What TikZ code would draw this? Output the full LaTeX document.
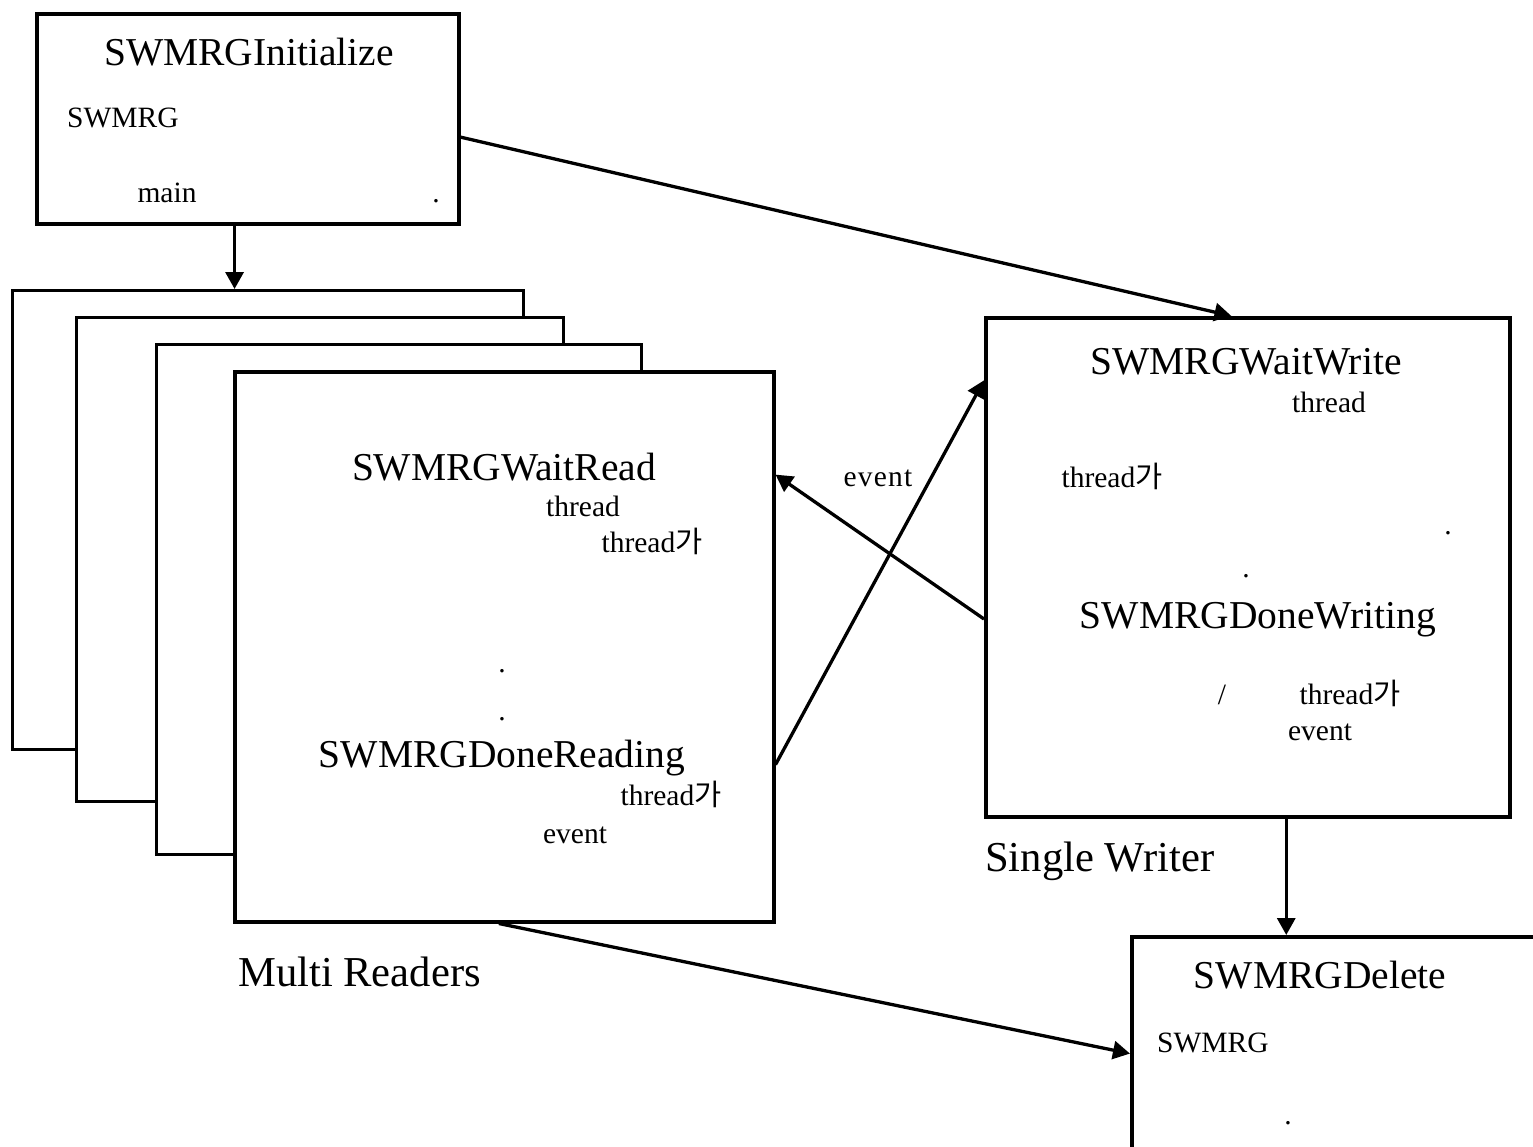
\documentclass[tikz,border=0pt]{standalone}
\usepackage{fontspec}
\setmainfont{Liberation Serif}
\newfontfamily\krfont{Noto Sans CJK KR}[Scale=1.0]
\usetikzlibrary{arrows.meta,calc}
\newcommand\hga{{\krfont 가}}
\begin{document}
\begin{tikzpicture}[x=1pt,y=-1pt,
  box/.style={draw, line width=3.5pt, fill=white, anchor=north west, inner sep=0pt},
  big/.style={font=\fontsize{39.5}{46}\selectfont, anchor=base, inner sep=0pt},
  small/.style={font=\fontsize{29.5}{34}\selectfont, anchor=base, inner sep=0pt},
  lab/.style={font=\fontsize{42.6}{48}\selectfont, anchor=base west, inner sep=0pt},
  arr/.style={line width=3.3pt, -{Triangle[length=17pt,width=18pt]}}]
\useasboundingbox (0,0) rectangle (1533,1146);
\clip (0,0) rectangle (1533,1146);
% boxes
\node[box, minimum width=422pt, minimum height=210pt] (init) at (35,12) {};
\node[box, line width=3pt, minimum width=511pt, minimum height=459pt] (b1) at (11,289) {};
\node[box, line width=3pt, minimum width=487pt, minimum height=484pt] (b2) at (75,316) {};
\node[box, line width=3pt, minimum width=485pt, minimum height=510pt] (b3) at (155,343) {};
\node[box, minimum width=539pt, minimum height=550pt] (rd) at (233,370) {};
\node[box, minimum width=524pt, minimum height=499pt] (wr) at (984,316) {};
\node[box, minimum width=430pt, minimum height=240pt] (del) at (1130,935) {};
% init texts
\node[big] (t1) at (249,65) {SWMRGInitialize};
\node[small, anchor=base west] (t2) at (67,127) {SWMRG};
\node[small] (t3) at (167,202) {main};
\node[small] (t4) at (436,202) {.};
% reader texts
\node[big] (r1) at (504,480) {SWMRGWaitRead};
\node[small] (r2) at (583,516) {thread};
\node[small] (r3) at (652,552) {thread\hga};
\node[small] (r4) at (502,672) {.};
\node[small] (r5) at (502,720) {.};
\node[big] (r6) at (502,767) {SWMRGDoneReading};
\node[small] (r7) at (671,805) {thread\hga};
\node[small] (r8) at (575,843) {event};
\node[lab] (ml) at (238,986) {Multi Readers};
% writer texts
\node[big] (w1) at (1246,374) {SWMRGWaitWrite};
\node[small] (w2) at (1329,412) {thread};
\node[small] (w3) at (1112,487) {thread\hga};
\node[small] (w4) at (1448,534) {.};
\node[small] (w5) at (1246,577) {.};
\node[big] (w6) at (1258,628) {SWMRGDoneWriting};
\node[small] (w7) at (1222,704) {/};
\node[small] (w8) at (1350,704) {thread\hga};
\node[small] (w9) at (1320,740) {event};
\node[lab] (sl) at (985,871) {Single Writer};
% delete texts
\node[big] (d1) at (1320,988) {SWMRGDelete};
\node[small, anchor=base west] (d2) at (1157,1052) {SWMRG};
\node[small] (d3) at (1288,1124) {.};
% event label
\node[small] (ev) at (878,486) {\addfontfeature{LetterSpace=4}event};
% connectors
\coordinate (a1) at ($(init.south west)!0.469!(init.south east)$);
\draw[arr] (a1) -- (a1 |- b1.north);
\draw[arr] ($(init.north east)!0.586!(init.south east)$) -- ($(wr.north west)!0.469!(wr.north east)$);
\draw[arr] ($(wr.north west)!0.603!(wr.south west)$) -- ($(rd.north east)!0.189!(rd.south east)$);
\draw[arr] ($(rd.north east)!0.713!(rd.south east)$) -- ($(wr.north west)!0.128!(wr.south west)$);
\coordinate (a2) at ($(wr.south west)!0.573!(wr.south east)$);
\draw[arr] (a2) -- (a2 |- del.north);
\draw[arr] ($(rd.south west)!0.49!(rd.south east)$) -- ($(del.north west)!0.487!(del.south west)$);
\end{tikzpicture}
\end{document}
